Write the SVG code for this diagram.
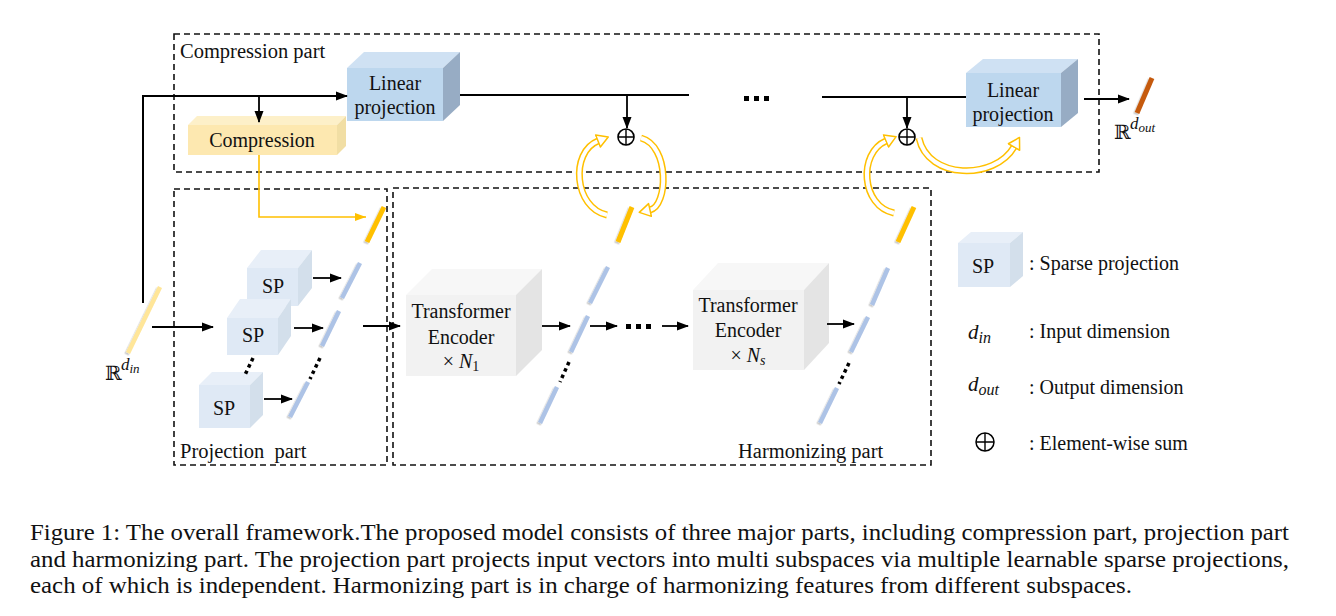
<svg xmlns="http://www.w3.org/2000/svg" width="1336" height="616" viewBox="0 0 1336 616">
<style>
text{font-family:"Liberation Serif","Times New Roman",serif;font-size:20px;fill:#111}
.c{text-anchor:middle}
.dash{fill:none;stroke:#111;stroke-width:1.6;stroke-dasharray:6 4}
.ln{fill:none;stroke:#000;stroke-width:2}
.ar{fill:none;stroke:#000;stroke-width:1.8;marker-end:url(#ah)}
.yl{fill:none;stroke:#ffc000;stroke-width:1.6}
.yo{fill:none;stroke:#ffc000;stroke-width:7}
.yi{fill:none;stroke:#fff;stroke-width:4;marker-end:url(#ha)}
.vb{stroke:#adc3e6;stroke-width:4.5;stroke-linecap:butt;filter:url(#sh)}
.vy{stroke:#ffc000;stroke-width:5;filter:url(#sh)}
.dots{stroke:#000;stroke-width:3.5;stroke-dasharray:3.5 3.5}
.spf{fill:#dfe9f5}.spt{fill:#e8eff8}.spr{fill:#d3dfeb}
.lpf{fill:#bdd7ee}.lpt{fill:#cfe1f3}.lpr{fill:#97acc4}
.tef{fill:#f2f2f2}.tet{fill:#f7f7f7}.ter{fill:#e4e4e4}
.i{font-style:italic}
.bb{font-family:"DejaVu Serif",serif;font-size:20px}
</style>
<defs>
<marker id="ah" markerUnits="userSpaceOnUse" markerWidth="12" markerHeight="10" viewBox="0 -5 12 10" refX="11" refY="0" orient="auto">
<path d="M0,-4.5 L12,0 L0,4.5 Z" fill="#000"/>
</marker>
<marker id="ahy" markerUnits="userSpaceOnUse" markerWidth="12" markerHeight="10" viewBox="0 -5 12 10" refX="11" refY="0" orient="auto">
<path d="M0,-4 L11,0 L0,4 Z" fill="#ffc000"/>
</marker>
<marker id="ha" markerUnits="userSpaceOnUse" markerWidth="16" markerHeight="16" viewBox="-1 -8 16 16" refX="0" refY="0" orient="auto">
<path d="M0,-6.5 L11,0 L0,6.5 Z" fill="#fff" stroke="#ffc000" stroke-width="1.5" stroke-linejoin="round"/>
</marker>
<filter id="sh" x="-50%" y="-50%" width="200%" height="200%">
<feDropShadow dx="-1.5" dy="1.5" stdDeviation="0.7" flood-color="#000" flood-opacity="0.2"/>
</filter>
</defs>

<g id="frames">
<rect class="dash" x="174" y="34" width="925" height="138"/>
<rect class="dash" x="174" y="189" width="213" height="276"/>
<rect class="dash" x="393" y="188" width="538" height="277"/>
<text x="180" y="58" style="font-size:20.5px">Compression part</text>
<text x="180" y="458" style="white-space:pre;font-size:20.5px">Projection  part</text>
<text x="738" y="458" style="font-size:20.5px">Harmonizing part</text>
</g>

<g id="linear1">
<polygon class="lpt" points="347,68 364,52 460,52 443,68"/>
<polygon class="lpr" points="443,68 460,52 460,105 443,121"/>
<rect class="lpf" x="347" y="68" width="96" height="53"/>
<text class="c" x="395" y="90">Linear</text>
<text class="c" x="395" y="114">projection</text>
</g>

<g id="compression">
<polygon points="188,125 197,116 346,116 337,125" fill="#fdf0c9"/>
<polygon points="337,125 346,116 346,146 337,155" fill="#f1dea4"/>
<rect x="188" y="125" width="149" height="30" fill="#fde8b0"/>
<text class="c" x="262" y="147">Compression</text>
</g>

<g id="linear2">
<polygon class="lpt" points="966,73 983,59 1078,59 1061,73"/>
<polygon class="lpr" points="1061,73 1078,59 1078,113 1061,127"/>
<rect class="lpf" x="966" y="73" width="95" height="54"/>
<text class="c" x="1013" y="97">Linear</text>
<text class="c" x="1013" y="121">projection</text>
</g>

<g id="output">
<line class="vb" x1="1152" y1="78" x2="1137" y2="113" style="stroke:#c55a11;stroke-width:5"/>
<text x="1114" y="139" class="bb">ℝ</text>
<text x="1130" y="129" class="i" style="font-size:17px">d<tspan dy="3" style="font-size:13px">out</tspan></text>
</g>

<g id="input">
<line x1="160" y1="287" x2="128" y2="353" stroke="#ffe699" stroke-width="4.5" filter="url(#sh)"/>
<text x="105" y="380" class="bb">ℝ</text>
<text x="121" y="370" class="i" style="font-size:17px">d<tspan dy="3" style="font-size:13px">in</tspan></text>
</g>

<g id="sp1">
<polygon class="spt" points="247,268 261,250 312,250 298,268"/>
<polygon class="spr" points="298,268 312,250 312,288 298,306"/>
<rect class="spf" x="247" y="268" width="51" height="38"/>
<text class="c" x="273" y="293">SP</text>
</g>
<g id="sp2">
<polygon class="spt" points="227,318 240,299 291,299 278,318"/>
<polygon class="spr" points="278,318 291,299 291,336 278,355"/>
<rect class="spf" x="227" y="318" width="51" height="37"/>
<text class="c" x="253" y="342">SP</text>
</g>
<g id="sp3">
<polygon class="spt" points="199,385 212,372 263,372 250,385"/>
<polygon class="spr" points="250,385 263,372 263,415 250,428"/>
<rect class="spf" x="199" y="385" width="51" height="43"/>
<text class="c" x="224" y="415">SP</text>
</g>

<g id="proj-vectors">
<line class="vy" x1="384" y1="207" x2="367" y2="242"/>
<line class="vb" x1="360" y1="263" x2="342" y2="298"/>
<line class="vb" x1="339" y1="311" x2="322" y2="346"/>
<line class="dots" x1="320" y1="358" x2="310" y2="379"/>
<line class="vb" x1="308" y1="382" x2="290" y2="417"/>
</g>

<g id="encoder1">
<polygon class="tet" points="406,295 432,269 542,269 516,295"/>
<polygon class="ter" points="516,295 542,269 542,350 516,376"/>
<rect class="tef" x="406" y="295" width="110" height="81"/>
<text class="c" x="461" y="318">Transformer</text>
<text class="c" x="461" y="344">Encoder</text>
<text class="c" x="461" y="368">× <tspan class="i">N</tspan><tspan dy="3" style="font-size:14px">1</tspan></text>
</g>

<g id="enc1-vectors">
<line class="vy" x1="632" y1="207" x2="618" y2="242"/>
<line class="vb" x1="608" y1="267" x2="590" y2="303"/>
<line class="vb" x1="588" y1="316" x2="571" y2="352"/>
<line class="dots" x1="569" y1="362" x2="560" y2="382"/>
<line class="vb" x1="557" y1="387" x2="540" y2="423"/>
</g>

<g id="encoder2">
<polygon class="tet" points="693,290 718,263 829,263 804,290"/>
<polygon class="ter" points="804,290 829,263 829,343 804,370"/>
<rect class="tef" x="693" y="290" width="111" height="80"/>
<text class="c" x="748" y="312">Transformer</text>
<text class="c" x="748" y="337">Encoder</text>
<text class="c" x="748" y="362">× <tspan class="i">N</tspan><tspan class="i" dy="3" style="font-size:14px">s</tspan></text>
</g>

<g id="enc2-vectors">
<line class="vy" x1="914" y1="207" x2="898" y2="242"/>
<line class="vb" x1="888" y1="268" x2="872" y2="305"/>
<line class="vb" x1="868" y1="317" x2="851" y2="352"/>
<line class="dots" x1="849" y1="363" x2="839" y2="384"/>
<line class="vb" x1="837" y1="388" x2="820" y2="423"/>
</g>

<g id="connectors">
<path class="ln" d="M143,303 V96"/>
<path class="ar" d="M142,96 H347"/>
<path class="ar" d="M259,96 V122"/>
<path class="yl" d="M259,155 V217 H366" marker-end="url(#ahy)"/>
<path class="ln" d="M460,95 H689"/>
<path class="ar" d="M627,95 V128"/>
<path class="ln" d="M822,97 H966"/>
<path class="ar" d="M907,97 V128"/>
<path class="ar" d="M1084,99 H1129"/>
<path class="ar" d="M152,327 H213"/>
<path class="ar" d="M313,278 H341"/>
<path class="ar" d="M294,328 H323"/>
<path class="ar" d="M264,399 H292"/>
<path class="ar" d="M363,326 H400"/>
<path class="ar" d="M542,326 H570"/>
<path class="ar" d="M590,326 H617"/>
<path class="ar" d="M662,326 H688"/>
<path class="ar" d="M827,324 H854"/>
<line class="dots" x1="253" y1="358" x2="244" y2="377"/>
<path class="yo" d="M607,215 C574,208 570,152 598,141"/>
<path class="yi" d="M607,215 C574,208 570,152 598,141"/>
<path class="yo" d="M641,138 C670,146 668,206 650,210"/>
<path class="yi" d="M641,138 C670,146 668,206 650,210"/>
<path class="yo" d="M894,213 C861,206 858,153 886,141"/>
<path class="yi" d="M894,213 C861,206 858,153 886,141"/>
<path class="yo" d="M919,138 C928,180 995,180 1014,147"/>
<path class="yi" d="M919,138 C928,180 995,180 1014,147"/>
</g>

<g id="ellipsis">
<rect x="744" y="96" width="5" height="5" fill="#000"/>
<rect x="754" y="96" width="5" height="5" fill="#000"/>
<rect x="764" y="96" width="5" height="5" fill="#000"/>
<rect x="626" y="324" width="5" height="5" fill="#000"/>
<rect x="636" y="324" width="5" height="5" fill="#000"/>
<rect x="646" y="324" width="5" height="5" fill="#000"/>
</g>

<g id="sum1">
<circle cx="626" cy="137" r="8" fill="#fff" stroke="#000" stroke-width="1.6"/>
<path d="M618,137 H634 M626,129 V145" stroke="#000" stroke-width="1.4"/>
</g>
<g id="sum2">
<circle cx="907" cy="137" r="8" fill="#fff" stroke="#000" stroke-width="1.6"/>
<path d="M899,137 H915 M907,129 V145" stroke="#000" stroke-width="1.4"/>
</g>

<g id="legend">
<polygon class="spt" points="958,243 971,232 1023,232 1010,243"/>
<polygon class="spr" points="1010,243 1023,232 1023,276 1010,287"/>
<rect class="spf" x="958" y="243" width="52" height="44"/>
<text class="c" x="983" y="273">SP</text>
<text x="1029" y="270">: Sparse projection</text>
<text x="968" y="339" class="i" style="font-size:21px">d<tspan dy="4" style="font-size:16px">in</tspan></text>
<text x="1029" y="338">: Input dimension</text>
<text x="968" y="391" class="i" style="font-size:21px">d<tspan dy="4" style="font-size:16px">out</tspan></text>
<text x="1029" y="394">: Output dimension</text>
<circle cx="985" cy="442" r="9" fill="none" stroke="#000" stroke-width="1.5"/>
<path d="M976,442 H994 M985,433 V451" stroke="#000" stroke-width="1.4"/>
<text x="1029" y="450">: Element-wise sum</text>
</g>

<g id="caption">
<text x="30" y="540" textLength="1259" lengthAdjust="spacingAndGlyphs" style="font-size:23px">Figure 1: The overall framework.The proposed model consists of three major parts, including compression part, projection part</text>
<text x="30" y="567" textLength="1259" lengthAdjust="spacingAndGlyphs" style="font-size:23px">and harmonizing part. The projection part projects input vectors into multi subspaces via multiple learnable sparse projections,</text>
<text x="30" y="593" textLength="1102" lengthAdjust="spacingAndGlyphs" style="font-size:23px">each of which is independent. Harmonizing part is in charge of harmonizing features from different subspaces.</text>
</g>
</svg>
